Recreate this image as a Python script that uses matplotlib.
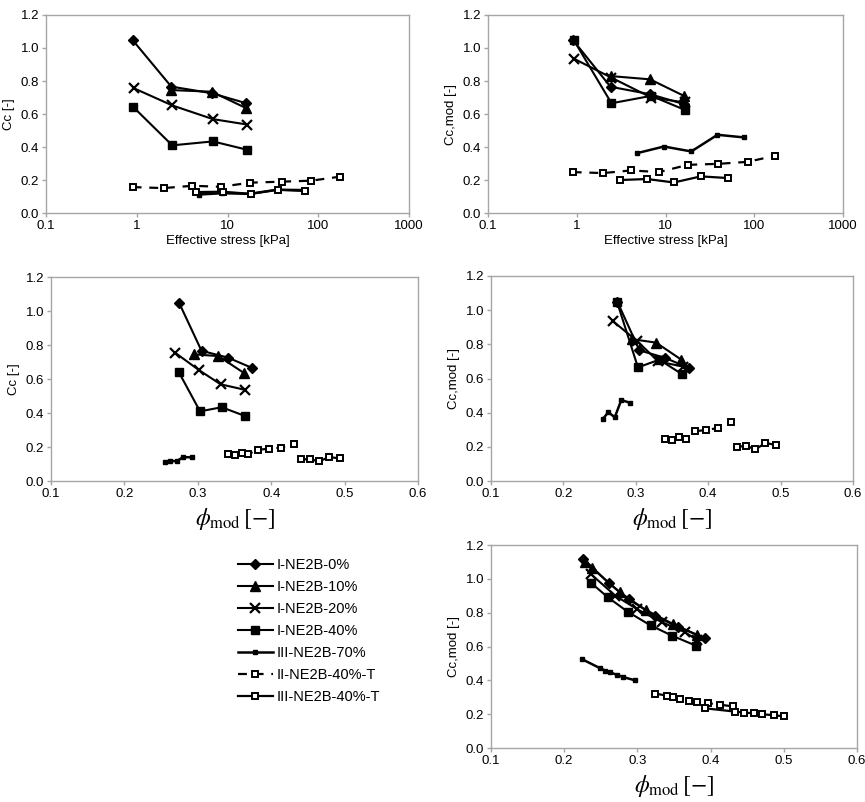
import matplotlib
matplotlib.use("Agg")
import matplotlib.pyplot as plt

plt.rcParams['font.family'] = ['Liberation Sans', 'DejaVu Sans']
plt.rcParams['mathtext.fontset'] = 'stix'

labels = ['I-NE2B-0%', 'I-NE2B-10%', 'I-NE2B-20%', 'I-NE2B-40%',
          'III-NE2B-70%', 'II-NE2B-40%-T', 'III-NE2B-40%-T']

# effective stress [kPa]
s_0 = [0.9, 2.4, 6.7, 16.1]
s_10 = [2.4, 6.7, 16.1]
s_20 = [0.93, 2.46, 6.9, 16.5]
s_40 = [0.92, 2.46, 6.9, 16.5]
s_70 = [4.8, 9.6, 19.5, 38.5, 77]
s_II = [0.9, 1.97, 4.1, 8.4, 17.9, 39.5, 84, 172]
s_III = [3.1, 6.2, 12.4, 25, 50]
s_70_cc = [4.8, 8.8, 17.5, 35, 71]
s_III_cc = [4.5, 9.0, 18, 36, 72]

# Cc
cc_0 = [1.048, 0.766, 0.726, 0.665]
cc_10 = [0.745, 0.735, 0.635]
cc_20 = [0.756, 0.652, 0.569, 0.536]
cc_40 = [0.641, 0.41, 0.434, 0.383]
cc_70 = [0.112, 0.12, 0.116, 0.141, 0.139]
cc_II = [0.157, 0.151, 0.165, 0.159, 0.184, 0.19, 0.196, 0.22]
cc_III = [0.127, 0.129, 0.116, 0.141, 0.133]

# Cc,mod
ccm_0 = [1.05, 0.765, 0.72, 0.66]
ccm_10 = [0.83, 0.81, 0.71]
ccm_20 = [0.935, 0.82, 0.70, 0.67]
ccm_40 = [1.05, 0.665, 0.71, 0.625]
ccm_70 = [0.363, 0.403, 0.373, 0.474, 0.458]
ccm_II = [0.248, 0.242, 0.258, 0.248, 0.292, 0.298, 0.31, 0.347]
ccm_III = [0.2, 0.206, 0.185, 0.222, 0.212]

# phi_mod
phi_0 = [0.2745, 0.305, 0.341, 0.374]
phi_10 = [0.295, 0.328, 0.363]
phi_20 = [0.2686, 0.3017, 0.331, 0.3647]
phi_40 = [0.274, 0.303, 0.3325, 0.364]
phi_70 = [0.2546, 0.262, 0.271, 0.28, 0.292]
phi_II = [0.341, 0.35, 0.36, 0.369, 0.382, 0.397, 0.413, 0.431]
phi_III = [0.44, 0.4527, 0.465, 0.479, 0.4935]

# bottom panel: phi_mod vs Cc,mod
phim_0 = [0.226, 0.261, 0.288, 0.324, 0.356, 0.392]
cb_0 = [1.12, 0.975, 0.88, 0.78, 0.715, 0.65]
phim_10 = [0.228, 0.238, 0.276, 0.312, 0.348, 0.381]
cb_10 = [1.10, 1.065, 0.92, 0.815, 0.735, 0.67]
phim_20 = [0.236, 0.27, 0.30, 0.333, 0.365, 0.381]
cb_20 = [1.03, 0.90, 0.82, 0.745, 0.685, 0.64]
phim_40 = [0.237, 0.26, 0.287, 0.318, 0.347, 0.38]
cb_40 = [0.975, 0.89, 0.805, 0.725, 0.665, 0.605]
phim_70 = [0.224, 0.249, 0.256, 0.263, 0.272, 0.281, 0.297]
cb_70 = [0.526, 0.472, 0.458, 0.447, 0.433, 0.419, 0.40]
phim_II = [0.324, 0.34, 0.349, 0.358, 0.37, 0.381, 0.397, 0.413, 0.431]
cb_II = [0.322, 0.31, 0.30, 0.29, 0.28, 0.272, 0.265, 0.256, 0.246]
phim_III = [0.392, 0.434, 0.445, 0.459, 0.47, 0.486, 0.501]
cb_III = [0.235, 0.215, 0.21, 0.205, 0.2, 0.194, 0.187]

styles = [
    dict(marker='D', ms=5.5, ls='-', lw=1.5, color='k'),
    dict(marker='^', ms=7, ls='-', lw=1.5, color='k'),
    dict(marker='x', ms=7.5, mew=1.6, ls='-', lw=1.5, color='k'),
    dict(marker='s', ms=6, ls='-', lw=1.5, color='k'),
    dict(marker='s', ms=3.5, ls='-', lw=1.8, color='k'),
    dict(marker='s', ms=5, mfc='white', mew=1.4, ls=(0, (4, 3.5)), lw=1.6, color='k'),
    dict(marker='s', ms=5, mfc='white', mew=1.4, ls='-', lw=1.6, color='k'),
]

GRAY = '#a6a6a6'


def style_ax(ax, log=False, xlim=(0.1, 0.6)):
    for sp in ax.spines.values():
        sp.set_color(GRAY)
        sp.set_linewidth(1.0)
    ax.tick_params(direction='out', length=3, width=1, color=GRAY,
                   labelsize=9.5, pad=2)
    ax.set_ylim(0, 1.2)
    ax.set_yticks([0, 0.2, 0.4, 0.6, 0.8, 1.0, 1.2])
    ax.set_yticklabels(['%.1f' % v for v in [0, 0.2, 0.4, 0.6, 0.8, 1.0, 1.2]])
    if log:
        ax.set_xscale('log')
        ax.set_xlim(0.1, 1000)
        ax.set_xticks([0.1, 1, 10, 100, 1000])
        ax.set_xticklabels(['0.1', '1', '10', '100', '1000'])
        ax.minorticks_off()
    else:
        ax.set_xlim(*xlim)
        ax.set_xticks([0.1, 0.2, 0.3, 0.4, 0.5, 0.6])
        ax.set_xticklabels(['0.1', '0.2', '0.3', '0.4', '0.5', '0.6'])


fig = plt.figure(figsize=(8.65, 8.02), dpi=100)
ax1 = fig.add_axes([0.0532, 0.7344, 0.4197, 0.2469])
ax2 = fig.add_axes([0.5642, 0.7344, 0.4104, 0.2469])
ax3 = fig.add_axes([0.0590, 0.4002, 0.4243, 0.2544])
ax4 = fig.add_axes([0.5676, 0.4002, 0.4185, 0.2557])
ax5 = fig.add_axes([0.5676, 0.0673, 0.4231, 0.2531])

panel1 = [(s_0, cc_0), (s_10, cc_10), (s_20, cc_20), (s_40, cc_40),
          (s_70_cc, cc_70), (s_II, cc_II), (s_III_cc, cc_III)]
panel2 = [(s_0, ccm_0), (s_10, ccm_10), (s_20, ccm_20), (s_40, ccm_40),
          (s_70, ccm_70), (s_II, ccm_II), (s_III, ccm_III)]
panel3 = [(phi_0, cc_0), (phi_10, cc_10), (phi_20, cc_20), (phi_40, cc_40),
          (phi_70, cc_70), (phi_II, cc_II), (phi_III, cc_III)]
panel4 = [(phi_0, ccm_0), (phi_10, ccm_10), (phi_20, ccm_20), (phi_40, ccm_40),
          (phi_70, ccm_70), (phi_II, ccm_II), (phi_III, ccm_III)]
panel5 = [(phim_0, cb_0), (phim_10, cb_10), (phim_20, cb_20), (phim_40, cb_40),
          (phim_70, cb_70), (phim_II, cb_II), (phim_III, cb_III)]

handles = []
for ax, data in [(ax1, panel1), (ax2, panel2), (ax3, panel3), (ax4, panel4), (ax5, panel5)]:
    hs = []
    for (x, y), st, lab in zip(data, styles, labels):
        h, = ax.plot(x, y, label=lab, clip_on=False, **st)
        hs.append(h)
    handles = hs

style_ax(ax1, log=True)
style_ax(ax2, log=True)
style_ax(ax3)
style_ax(ax4)
style_ax(ax5)

ax1.set_xlabel('Effective stress [kPa]', fontsize=9.5, labelpad=2)
ax2.set_xlabel('Effective stress [kPa]', fontsize=9.5, labelpad=2)
ax1.set_ylabel('Cc [-]', fontsize=9.5, labelpad=4)
ax2.set_ylabel('Cc,mod [-]', fontsize=9.5, labelpad=4)
ax3.set_ylabel('Cc [-]', fontsize=9.5, labelpad=4)
ax4.set_ylabel('Cc,mod [-]', fontsize=9.5, labelpad=4)
ax5.set_ylabel('Cc,mod [-]', fontsize=9.5, labelpad=4)
phi_label = r'$\phi_{\mathrm{mod}}\,[-]$'
for ax in (ax3, ax4, ax5):
    ax.set_xlabel(phi_label, fontsize=17, labelpad=4)

fig.legend(handles=handles, labels=labels, loc='upper left',
           bbox_to_anchor=(0.268, 0.312), frameon=False, fontsize=10.5,
           handlelength=2.4, handletextpad=0.3, labelspacing=0.55,
           borderaxespad=0)

fig.savefig('out.png', dpi=100)
